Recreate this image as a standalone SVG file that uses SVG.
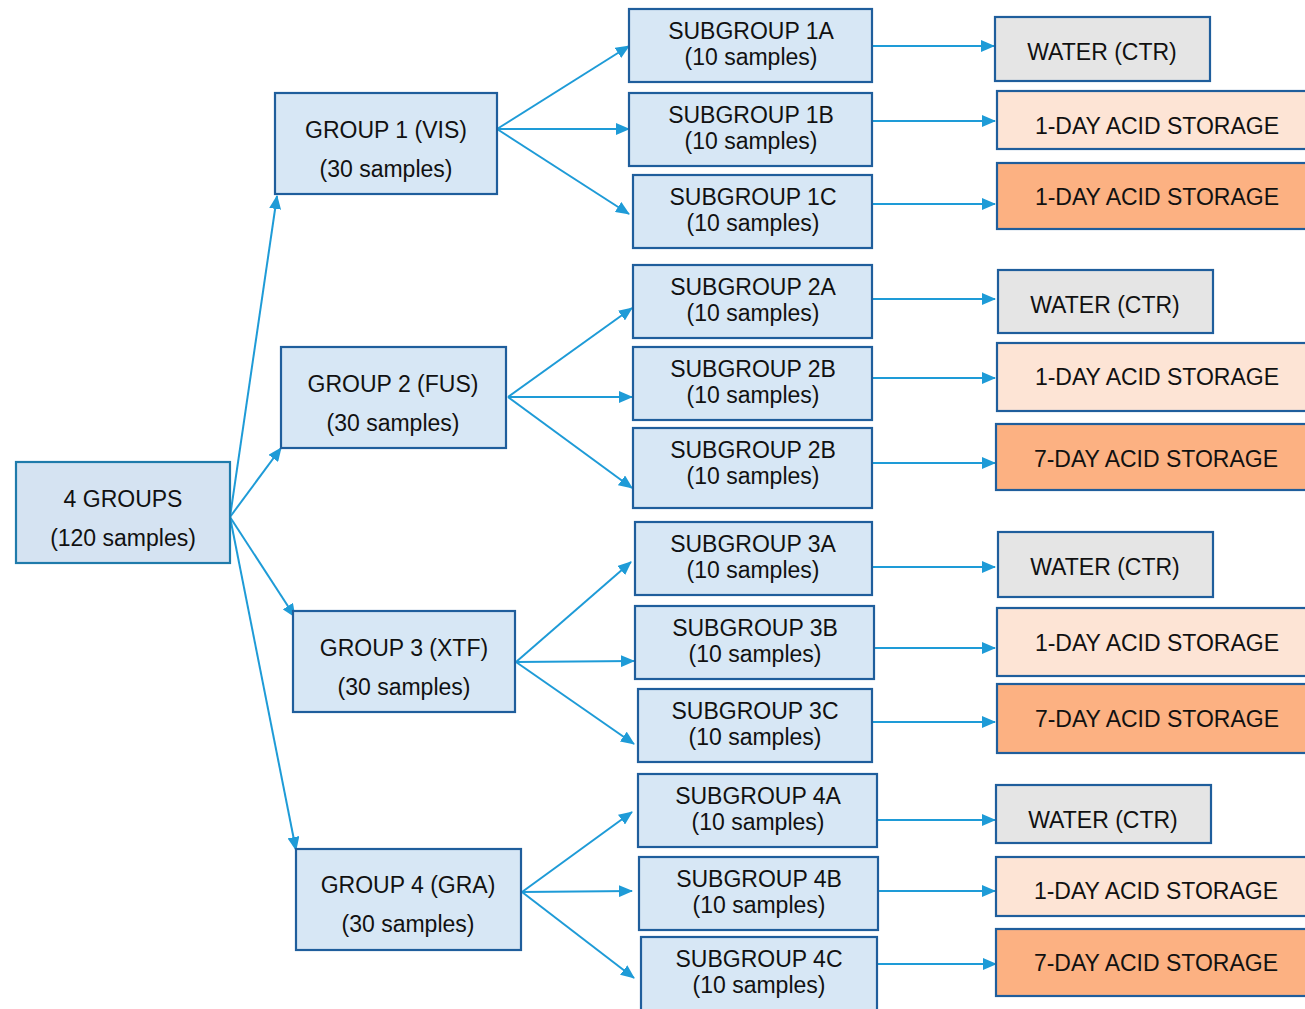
<svg xmlns="http://www.w3.org/2000/svg" width="1305" height="1009" viewBox="0 0 1305 1009">
<style>
text{font-family:"Liberation Sans",Arial,sans-serif;font-size:23px;fill:#111;text-anchor:middle}
.g rect{fill:#D7E7F5;stroke:#1F5E9C;stroke-width:2.2}
.root rect{fill:#D5E3F2;stroke:#1F7BAB;stroke-width:2.2}
.w rect{fill:#E5E5E5;stroke:#1F5E9C;stroke-width:2.2}
.p rect{fill:#FDE4D5;stroke:#1F5E9C;stroke-width:2.2}
.o rect{fill:#FCB182;stroke:#1F5E9C;stroke-width:2.2}
#connectors line{stroke:#1E9BD7;stroke-width:2;marker-end:url(#ah)}
</style>
<defs>
<marker id="ah" viewBox="0 0 14 12" refX="13" refY="6" markerWidth="14" markerHeight="12" markerUnits="userSpaceOnUse" orient="auto">
<path d="M0,0 L14,6 L0,12 z" fill="#1E9BD7"/>
</marker>
</defs>
<g id="connectors">
<line x1="230" y1="517" x2="277" y2="196"/>
<line x1="230" y1="517" x2="281" y2="448"/>
<line x1="230" y1="517" x2="295" y2="617"/>
<line x1="230" y1="517" x2="296" y2="850"/>
<line x1="497" y1="129" x2="629" y2="46"/>
<line x1="497" y1="129" x2="629" y2="129"/>
<line x1="497" y1="129" x2="629" y2="214"/>
<line x1="508" y1="397" x2="632" y2="308"/>
<line x1="508" y1="397" x2="632" y2="397"/>
<line x1="508" y1="397" x2="632" y2="488"/>
<line x1="516" y1="662" x2="631" y2="562"/>
<line x1="516" y1="662" x2="634" y2="661"/>
<line x1="516" y1="662" x2="634" y2="744"/>
<line x1="522" y1="892" x2="632" y2="812"/>
<line x1="522" y1="892" x2="632" y2="891"/>
<line x1="522" y1="892" x2="634" y2="978"/>
<line x1="872" y1="46" x2="994" y2="46"/>
<line x1="872" y1="121" x2="995" y2="121"/>
<line x1="872" y1="204" x2="995" y2="204"/>
<line x1="872" y1="299" x2="995" y2="299"/>
<line x1="872" y1="378" x2="995" y2="378"/>
<line x1="872" y1="463" x2="995" y2="463"/>
<line x1="872" y1="567" x2="995" y2="567"/>
<line x1="874" y1="648" x2="995" y2="648"/>
<line x1="872" y1="722" x2="995" y2="722"/>
<line x1="877" y1="820" x2="995" y2="820"/>
<line x1="878" y1="891" x2="995" y2="891"/>
<line x1="877" y1="964" x2="996" y2="964"/>
</g>
<g id="root" class="root"><rect x="16" y="462" width="214" height="101"/><text x="123" y="507">4 GROUPS</text><text x="123" y="546">(120 samples)</text></g>
<g id="group1" class="g"><rect x="275" y="93" width="222" height="101"/><text x="386" y="138">GROUP 1 (VIS)</text><text x="386" y="177">(30 samples)</text></g>
<g id="group2" class="g"><rect x="281" y="347" width="225" height="101"/><text x="393" y="392">GROUP 2 (FUS)</text><text x="393" y="431">(30 samples)</text></g>
<g id="group3" class="g"><rect x="293" y="611" width="222" height="101"/><text x="404" y="656">GROUP 3 (XTF)</text><text x="404" y="695">(30 samples)</text></g>
<g id="group4" class="g"><rect x="296" y="849" width="225" height="101"/><text x="408" y="893">GROUP 4 (GRA)</text><text x="408" y="932">(30 samples)</text></g>
<g id="sub1a" class="g"><rect x="629" y="9" width="243" height="73"/><text x="751" y="39">SUBGROUP 1A</text><text x="751" y="65">(10 samples)</text></g>
<g id="sub1b" class="g"><rect x="629" y="93" width="243" height="73"/><text x="751" y="123">SUBGROUP 1B</text><text x="751" y="149">(10 samples)</text></g>
<g id="sub1c" class="g"><rect x="633" y="175" width="239" height="73"/><text x="753" y="205">SUBGROUP 1C</text><text x="753" y="231">(10 samples)</text></g>
<g id="sub2a" class="g"><rect x="633" y="265" width="239" height="73"/><text x="753" y="295">SUBGROUP 2A</text><text x="753" y="321">(10 samples)</text></g>
<g id="sub2b" class="g"><rect x="633" y="347" width="239" height="73"/><text x="753" y="377">SUBGROUP 2B</text><text x="753" y="403">(10 samples)</text></g>
<g id="sub2c" class="g"><rect x="633" y="428" width="239" height="80"/><text x="753" y="458">SUBGROUP 2B</text><text x="753" y="484">(10 samples)</text></g>
<g id="sub3a" class="g"><rect x="635" y="522" width="237" height="73"/><text x="753" y="552">SUBGROUP 3A</text><text x="753" y="578">(10 samples)</text></g>
<g id="sub3b" class="g"><rect x="635" y="606" width="239" height="73"/><text x="755" y="636">SUBGROUP 3B</text><text x="755" y="662">(10 samples)</text></g>
<g id="sub3c" class="g"><rect x="638" y="689" width="234" height="73"/><text x="755" y="719">SUBGROUP 3C</text><text x="755" y="745">(10 samples)</text></g>
<g id="sub4a" class="g"><rect x="638" y="774" width="239" height="73"/><text x="758" y="804">SUBGROUP 4A</text><text x="758" y="830">(10 samples)</text></g>
<g id="sub4b" class="g"><rect x="639" y="857" width="239" height="73"/><text x="759" y="887">SUBGROUP 4B</text><text x="759" y="913">(10 samples)</text></g>
<g id="sub4c" class="g"><rect x="641" y="937" width="236" height="80"/><text x="759" y="967">SUBGROUP 4C</text><text x="759" y="993">(10 samples)</text></g>
<g id="t1a" class="w"><rect x="995" y="17" width="215" height="64"/><text x="1102" y="60">WATER (CTR)</text></g>
<g id="t1b" class="p"><rect x="997" y="91" width="320" height="58"/><text x="1157" y="134">1-DAY ACID STORAGE</text></g>
<g id="t1c" class="o"><rect x="997" y="163" width="320" height="66"/><text x="1157" y="205">1-DAY ACID STORAGE</text></g>
<g id="t2a" class="w"><rect x="998" y="270" width="215" height="63"/><text x="1105" y="313">WATER (CTR)</text></g>
<g id="t2b" class="p"><rect x="997" y="343" width="320" height="68"/><text x="1157" y="385">1-DAY ACID STORAGE</text></g>
<g id="t2c" class="o"><rect x="996" y="424" width="320" height="66"/><text x="1156" y="467">7-DAY ACID STORAGE</text></g>
<g id="t3a" class="w"><rect x="998" y="532" width="215" height="65"/><text x="1105" y="575">WATER (CTR)</text></g>
<g id="t3b" class="p"><rect x="997" y="608" width="320" height="68"/><text x="1157" y="651">1-DAY ACID STORAGE</text></g>
<g id="t3c" class="o"><rect x="997" y="684" width="320" height="69"/><text x="1157" y="727">7-DAY ACID STORAGE</text></g>
<g id="t4a" class="w"><rect x="996" y="785" width="215" height="58"/><text x="1103" y="828">WATER (CTR)</text></g>
<g id="t4b" class="p"><rect x="996" y="857" width="320" height="59"/><text x="1156" y="899">1-DAY ACID STORAGE</text></g>
<g id="t4c" class="o"><rect x="996" y="929" width="320" height="67"/><text x="1156" y="971">7-DAY ACID STORAGE</text></g>
</svg>
